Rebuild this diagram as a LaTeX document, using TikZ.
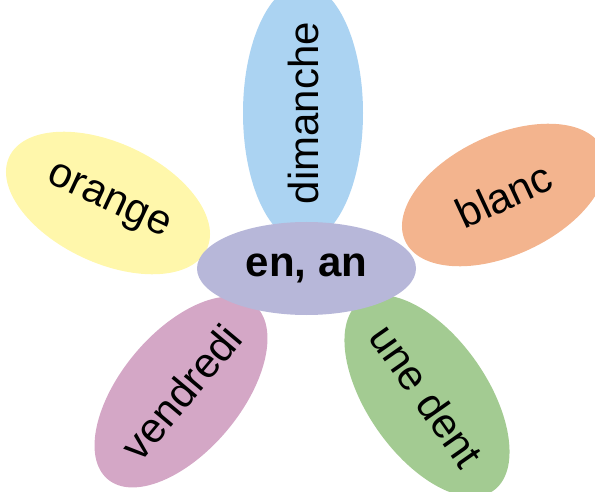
\documentclass[tikz,border=0pt]{standalone}
\usepackage{fontspec}
\setmainfont{Liberation Sans}
\usetikzlibrary{shapes.geometric}
\definecolor{cLav}{RGB}{183,183,217}
\definecolor{cBlue}{RGB}{171,211,242}
\definecolor{cYel}{RGB}{255,247,171}
\definecolor{cSal}{RGB}{243,180,142}
\definecolor{cPink}{RGB}{212,167,198}
\definecolor{cGreen}{RGB}{163,203,146}
\tikzset{
  petal/.style={ellipse, draw=none, inner sep=0pt, minimum width=218pt, minimum height=120pt,
    font=\fontsize{42}{50}\selectfont},
  heart/.style={ellipse, draw=none, fill=cLav, inner sep=0pt, minimum width=219pt, minimum height=93pt,
    font=\fontsize{42}{50}\selectfont\bfseries}
}
\begin{document}
\begin{tikzpicture}[x=1pt,y=-1pt]
\useasboundingbox (0,0) rectangle (595,492);
\node[petal, fill=cBlue, rotate=90] (dim) at (303,113) {dimanche};
\node[petal, fill=cYel, rotate=-25] (ora) at (108,203) {orange};
\node[petal, fill=cSal, rotate=25] (bla) at (504,195) {blanc};
\node[petal, fill=cPink, rotate=50] (ven) at (181,392) {vendredi};
\node[petal, fill=cGreen, rotate=-55] (den) at (427,396) {une dent};
\node[heart] (ctr) at (306.5,268.5) {en, an};
\end{tikzpicture}
\end{document}
